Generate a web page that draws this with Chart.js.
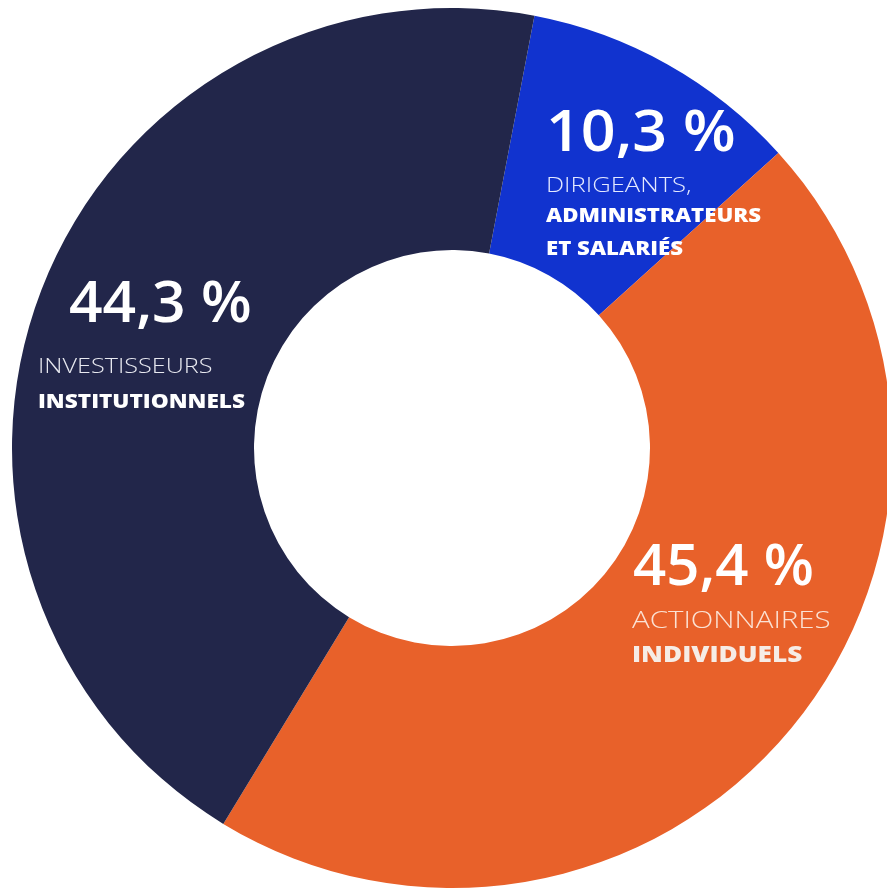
<!DOCTYPE html>
<html>
<head>
<meta charset="utf-8">
<script src="https://cdn.jsdelivr.net/npm/chart.js@4/dist/chart.umd.min.js"></script>
<style>
    html, body { margin: 0; padding: 0; background: #ffffff; overflow: hidden; width: 887px; height: 888px; }
    #wrap { position: absolute; left: 12px; top: 8px; width: 880px; height: 880px; }
</style>
</head>
<body>
<div id="wrap"><canvas id="shareholdersChart"></canvas></div>
<script>
// Répartition du capital (%)
var categories = ['Dirigeants, administrateurs et salariés', 'Actionnaires individuels', 'Investisseurs institutionnels'];
var shares = [10.3, 45.4, 44.3];
var lightLines = [['DIRIGEANTS,'], ['ACTIONNAIRES'], ['INVESTISSEURS']];
var boldLines = [['ADMINISTRATEURS', 'ET SALARIÉS'], ['INDIVIDUELS'], ['INSTITUTIONNELS']];

var colors = ['#1133cf', '#e8612a', '#22264a'];

// label placement, offsets from the centre of the ring (px)
// the original font is wider than Open Sans, so text gets stretched a bit (sx)
var labelLayout = [
    { pctX: 94, textX: 94, pctY: -297, lineY: [-256, -226, -193],
      pctSize: 57, pctSx: 1.07, lightSize: 20, lightSx: 1.28, boldSize: 19, boldSx: 1.17,
      light: '#e4e9ff', bold: '#ffffff' },
    { pctX: 181, textX: 180, pctY: 137, lineY: [180, 214],
      pctSize: 57, pctSx: 1.02, lightSize: 23, lightSx: 1.28, boldSize: 22, boldSx: 1.19,
      light: '#fbe2d4', bold: '#f6ece6' },
    { pctX: -383, textX: -414, pctY: -126, lineY: [-75, -40],
      pctSize: 57, pctSx: 1.03, lightSize: 20, lightSx: 1.26, boldSize: 19, boldSx: 1.19,
      light: '#e8e9f0', bold: '#ffffff' }
];

function stretchText(ctx, text, x, y, sx) {
    ctx.save();
    ctx.translate(x, y);
    ctx.scale(sx, 1);
    ctx.fillText(text, 0, 0);
    ctx.restore();
}

var ringLabels = {
    id: 'ringLabels',
    afterDatasetsDraw: function(chart) {
        var ctx = chart.ctx;
        var arc = chart.getDatasetMeta(0).data[0];
        var cx = arc.x, cy = arc.y;
        ctx.save();
        ctx.textAlign = 'left';
        ctx.textBaseline = 'alphabetic';
        shares.forEach(function(v, i) {
            var l = labelLayout[i];
            var row = 0;
            ctx.fillStyle = '#ffffff';
            ctx.font = '600 ' + l.pctSize + 'px "Open Sans"';
            stretchText(ctx, v.toFixed(1).replace('.', ',') + ' %', cx + l.pctX, cy + l.pctY, l.pctSx);
            ctx.font = '300 ' + l.lightSize + 'px "Open Sans"';
            ctx.fillStyle = l.light;
            lightLines[i].forEach(function(t) {
                stretchText(ctx, t, cx + l.textX, cy + l.lineY[row++], l.lightSx);
            });
            ctx.font = '800 ' + l.boldSize + 'px "Open Sans"';
            ctx.fillStyle = l.bold;
            boldLines[i].forEach(function(t) {
                stretchText(ctx, t, cx + l.textX, cy + l.lineY[row++], l.boldSx);
            });
        });
        ctx.restore();
    }
};

var ctx = document.getElementById('shareholdersChart').getContext('2d');
var shareholdersChart = new Chart(ctx, {
    type: 'doughnut',
    data: {
        labels: categories,
        datasets: [{
            data: shares,
            backgroundColor: colors,
            borderWidth: 0
        }]
    },
    options: {
        responsive: true,
        maintainAspectRatio: false,
        animation: false,
        rotation: 10.8,
        cutout: '45%',
        layout: { padding: 0 },
        plugins: {
            legend: { display: false },
            tooltip: { enabled: false }
        }
    },
    plugins: [ringLabels]
});
</script>
</body>
</html>
